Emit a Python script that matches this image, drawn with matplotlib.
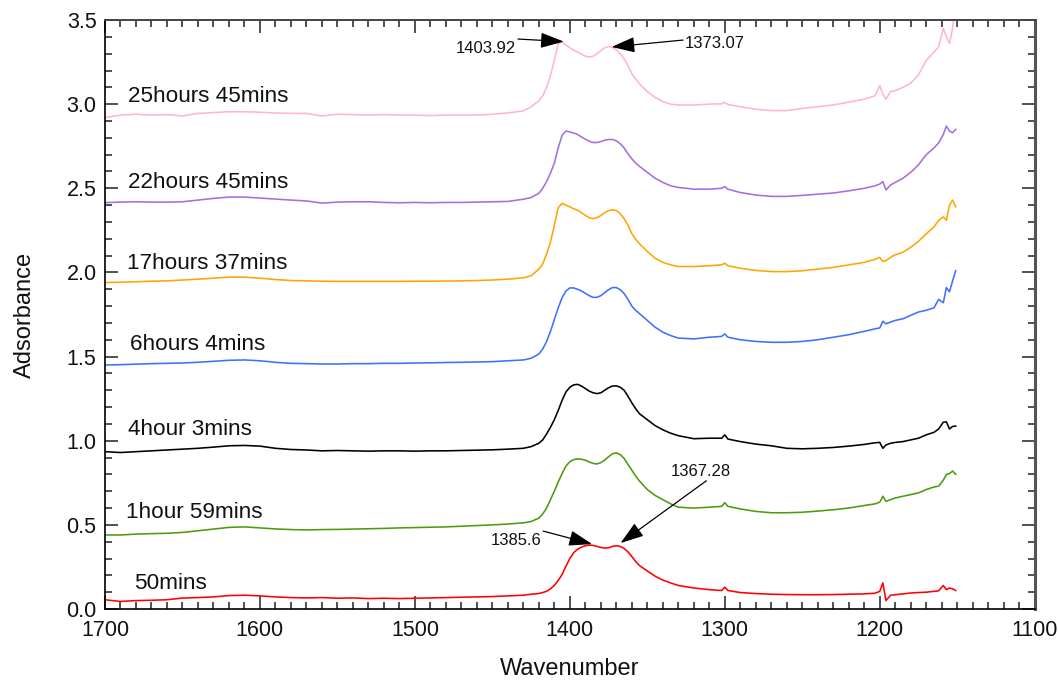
import matplotlib
matplotlib.use("Agg")
import matplotlib.pyplot as plt
from matplotlib.ticker import MultipleLocator, FormatStrFormatter

plt.rcParams['font.family'] = ['Liberation Sans', 'DejaVu Sans']

# Shared wavenumber grid (cm^-1), denser around the 1400/1370 doublet
wavenumber = [1700, 1690, 1680, 1670, 1660, 1650, 1640, 1630, 1620, 1610,
              1600, 1590, 1580, 1570, 1560, 1550, 1540, 1530, 1520, 1510,
              1500, 1490, 1480, 1470, 1460, 1450, 1440, 1430,
              1425, 1420, 1417.5, 1415, 1412.5, 1410, 1407.5, 1405, 1402.5,
              1400, 1397.5, 1395, 1392.5, 1390, 1387.5, 1385, 1382.5, 1380,
              1377.5, 1375, 1372.5, 1370, 1367.5, 1365, 1362.5, 1360, 1357.5,
              1355, 1350, 1345, 1340, 1335,
              1330, 1320, 1310, 1302, 1300, 1298, 1290, 1280, 1270, 1260,
              1250, 1240, 1230, 1220, 1210,
              1203, 1200, 1198, 1196, 1193, 1190, 1185, 1180, 1175, 1170,
              1165, 1162, 1159, 1157, 1155, 1153, 1151]

abs_50min = [0.055, 0.045, 0.050, 0.052, 0.055, 0.065, 0.068, 0.072, 0.080, 0.082,
             0.078, 0.072, 0.068, 0.066, 0.068, 0.064, 0.066, 0.062, 0.064, 0.062,
             0.064, 0.066, 0.068, 0.070, 0.072, 0.074, 0.078, 0.082,
             0.088, 0.092, 0.098, 0.105, 0.120, 0.140, 0.170, 0.205, 0.255,
             0.300, 0.335, 0.355, 0.368, 0.376, 0.380, 0.378, 0.372, 0.366,
             0.362, 0.364, 0.372, 0.376, 0.372, 0.360, 0.340, 0.312, 0.282,
             0.258, 0.226, 0.195, 0.172, 0.155,
             0.140, 0.125, 0.115, 0.110, 0.130, 0.110, 0.098, 0.092, 0.088, 0.086,
             0.085, 0.085, 0.086, 0.088, 0.090,
             0.094, 0.105, 0.155, 0.050, 0.082, 0.085, 0.090, 0.095, 0.098, 0.100,
             0.105, 0.108, 0.140, 0.115, 0.125, 0.120, 0.110]

abs_1h59 = [0.440, 0.440, 0.445, 0.448, 0.450, 0.455, 0.465, 0.475, 0.485, 0.488,
            0.482, 0.476, 0.472, 0.470, 0.472, 0.473, 0.475, 0.477, 0.479, 0.482,
            0.484, 0.486, 0.488, 0.492, 0.496, 0.500, 0.505, 0.512,
            0.520, 0.540, 0.565, 0.600, 0.650, 0.700, 0.755, 0.805, 0.850,
            0.875, 0.888, 0.892, 0.890, 0.884, 0.874, 0.865, 0.862, 0.870,
            0.885, 0.905, 0.922, 0.928, 0.918, 0.895, 0.860, 0.825, 0.790,
            0.760, 0.710, 0.675, 0.650, 0.625,
            0.605, 0.600, 0.605, 0.610, 0.632, 0.610, 0.595, 0.580, 0.572, 0.572,
            0.575, 0.582, 0.590, 0.600, 0.615,
            0.625, 0.635, 0.670, 0.640, 0.650, 0.660, 0.670, 0.680, 0.690, 0.710,
            0.725, 0.730, 0.765, 0.800, 0.805, 0.820, 0.800]

abs_4h03 = [0.935, 0.930, 0.935, 0.940, 0.945, 0.950, 0.955, 0.962, 0.970, 0.972,
            0.968, 0.955, 0.948, 0.945, 0.940, 0.942, 0.940, 0.938, 0.940, 0.940,
            0.938, 0.940, 0.940, 0.942, 0.944, 0.946, 0.950, 0.955,
            0.965, 0.985, 1.005, 1.040, 1.080, 1.125, 1.180, 1.240, 1.290,
            1.318, 1.332, 1.335, 1.325, 1.310, 1.295, 1.285, 1.280, 1.285,
            1.300, 1.315, 1.325, 1.326, 1.318, 1.300, 1.265, 1.225, 1.190,
            1.160, 1.125, 1.090, 1.065, 1.045,
            1.030, 1.012, 1.015, 1.015, 1.035, 1.010, 0.995, 0.980, 0.970, 0.955,
            0.952, 0.955, 0.960, 0.968, 0.978,
            0.988, 0.990, 0.955, 0.975, 0.985, 0.990, 0.995, 1.005, 1.015, 1.035,
            1.050, 1.070, 1.110, 1.112, 1.070, 1.085, 1.087]

abs_6h04 = [1.450, 1.452, 1.455, 1.458, 1.460, 1.462, 1.466, 1.472, 1.478, 1.480,
            1.475, 1.466, 1.460, 1.458, 1.456, 1.456, 1.458, 1.458, 1.460, 1.460,
            1.462, 1.463, 1.465, 1.466, 1.468, 1.470, 1.475, 1.480,
            1.490, 1.515, 1.545, 1.590, 1.650, 1.720, 1.790, 1.850, 1.890,
            1.908, 1.908, 1.900, 1.890, 1.876, 1.862, 1.852, 1.852, 1.862,
            1.880, 1.898, 1.910, 1.910, 1.898, 1.875, 1.840, 1.800, 1.775,
            1.755, 1.715, 1.675, 1.645, 1.625,
            1.610, 1.605, 1.615, 1.620, 1.635, 1.615, 1.600, 1.590, 1.585, 1.585,
            1.590, 1.600, 1.615, 1.630, 1.650,
            1.665, 1.670, 1.710, 1.695, 1.705, 1.715, 1.725, 1.745, 1.765, 1.775,
            1.790, 1.840, 1.820, 1.910, 1.885, 1.950, 2.010]

abs_17h37 = [1.940, 1.942, 1.945, 1.948, 1.950, 1.955, 1.960, 1.966, 1.972, 1.972,
             1.966, 1.958, 1.952, 1.950, 1.948, 1.947, 1.947, 1.947, 1.947, 1.947,
             1.948, 1.948, 1.949, 1.950, 1.952, 1.955, 1.960, 1.968,
             1.980, 2.020, 2.050, 2.110, 2.180, 2.280, 2.385, 2.410, 2.400,
             2.390, 2.378, 2.370, 2.355, 2.340, 2.325, 2.320, 2.325, 2.338,
             2.355, 2.368, 2.372, 2.368, 2.350, 2.320, 2.280, 2.230, 2.198,
             2.170, 2.125, 2.085, 2.060, 2.045,
             2.035, 2.035, 2.040, 2.045, 2.055, 2.040, 2.025, 2.012, 2.005, 2.005,
             2.010, 2.020, 2.030, 2.045, 2.060,
             2.078, 2.090, 2.065, 2.070, 2.090, 2.105, 2.120, 2.150, 2.185, 2.230,
             2.270, 2.310, 2.330, 2.310, 2.400, 2.430, 2.390]

abs_22h45 = [2.415, 2.418, 2.420, 2.418, 2.418, 2.420, 2.430, 2.440, 2.448, 2.448,
             2.442, 2.436, 2.430, 2.425, 2.412, 2.418, 2.420, 2.420, 2.416, 2.414,
             2.416, 2.414, 2.416, 2.416, 2.418, 2.420, 2.422, 2.435,
             2.445, 2.470, 2.500, 2.540, 2.590, 2.650, 2.740, 2.815, 2.840,
             2.835, 2.828, 2.820, 2.805, 2.792, 2.780, 2.772, 2.772, 2.778,
             2.786, 2.790, 2.790, 2.782, 2.765, 2.740, 2.705, 2.675, 2.650,
             2.630, 2.595, 2.560, 2.535, 2.515,
             2.505, 2.495, 2.495, 2.500, 2.510, 2.495, 2.475, 2.460, 2.452, 2.452,
             2.458, 2.465, 2.472, 2.485, 2.500,
             2.515, 2.525, 2.540, 2.490, 2.520, 2.535, 2.560, 2.595, 2.640, 2.700,
             2.740, 2.770, 2.820, 2.870, 2.840, 2.830, 2.850]

abs_25h45 = [2.920, 2.935, 2.940, 2.935, 2.938, 2.930, 2.945, 2.950, 2.955, 2.955,
             2.952, 2.948, 2.945, 2.945, 2.930, 2.940, 2.938, 2.935, 2.938, 2.935,
             2.935, 2.932, 2.935, 2.935, 2.935, 2.940, 2.948, 2.960,
             2.985, 3.020, 3.050, 3.100, 3.170, 3.260, 3.360, 3.370, 3.350,
             3.335, 3.320, 3.310, 3.298, 3.285, 3.280, 3.285, 3.300, 3.318,
             3.335, 3.343, 3.338, 3.322, 3.300, 3.270, 3.230, 3.180, 3.150,
             3.120, 3.075, 3.040, 3.015, 3.000,
             2.995, 2.995, 3.000, 3.002, 3.010, 2.998, 2.985, 2.970, 2.962, 2.962,
             2.975, 2.985, 2.995, 3.012, 3.030,
             3.050, 3.110, 3.060, 3.030, 3.075, 3.080, 3.100, 3.125, 3.175, 3.260,
             3.310, 3.340, 3.450, 3.400, 3.360, 3.450, 3.600]

series_labels = ["50mins", "1hour 59mins", "4hour 3mins", "6hours 4mins",
                 "17hours 37mins", "22hours 45mins", "25hours 45mins"]
series_values = [abs_50min, abs_1h59, abs_4h03, abs_6h04,
                 abs_17h37, abs_22h45, abs_25h45]
series_colors = ["#ff0000", "#4e9a0c", "#000000", "#3f6fff",
                 "#ffa500", "#a76ee0", "#ffb6c8"]
# (wavenumber, absorbance) anchor of each series caption
label_pos = [(1681.5, 0.150), (1686.5, 0.575), (1685.2, 1.065), (1684.0, 1.57),
             (1685.5, 2.055), (1685.2, 2.535), (1685.2, 3.045)]

# Peak annotations: text, text centre, arrow tail, arrow tip
peak_text = ["1403.92", "1373.07", "1385.6", "1367.28"]
peak_text_xy = [(1454.2, 3.333), (1306.5, 3.361), (1434.4, 0.41), (1315.5, 0.816)]
peak_tail_xy = [(1433.5, 3.387), (1326.9, 3.381), (1417.2, 0.463), (1311.9, 0.762)]
peak_tip_xy = [(1403.92, 3.372), (1373.07, 3.340), (1385.6, 0.386), (1367.28, 0.392)]

fig = plt.figure(figsize=(10.58, 6.81), dpi=100)
ax = fig.add_axes([0.0992, 0.1057, 0.8788, 0.8649])

for vals, col in zip(series_values, series_colors):
    ax.plot(wavenumber, vals, color=col, lw=1.15, solid_joinstyle='round')

for text, (x, y) in zip(series_labels, label_pos):
    ax.text(x, y, text, fontsize=16.2, ha='left', va='center', color='#111111')

for text, txy, tail, tip in zip(peak_text, peak_text_xy, peak_tail_xy, peak_tip_xy):
    ax.text(txy[0], txy[1], text, fontsize=12, ha='center', va='center',
            color='#111111')
    ax.annotate('', xy=tip, xytext=tail,
                arrowprops=dict(arrowstyle='-|>,head_length=0.9,head_width=0.3',
                                mutation_scale=16, color='black', lw=0.9,
                                shrinkA=0, shrinkB=0))

ax.set_xlim(1700, 1100)
ax.set_ylim(0.0, 3.5)
ax.xaxis.set_major_locator(MultipleLocator(100))
ax.xaxis.set_minor_locator(MultipleLocator(10))
ax.yaxis.set_major_locator(MultipleLocator(0.5))
ax.yaxis.set_minor_locator(MultipleLocator(0.1))
ax.yaxis.set_major_formatter(FormatStrFormatter('%.1f'))

ax.tick_params(which='both', direction='in', top=True, right=True,
               width=1.1, colors='#222222', labelsize=15.5)
ax.tick_params(which='major', length=9.5)
ax.tick_params(which='minor', length=5)
ax.tick_params(axis='x', which='major', pad=8)
ax.tick_params(axis='y', which='major', pad=6)
for lbl in ax.get_xticklabels() + ax.get_yticklabels():
    lbl.set_color('#111111')

ax.spines['left'].set_linewidth(1.2)
ax.spines['bottom'].set_linewidth(1.2)
ax.spines['top'].set_linewidth(1.4)
ax.spines['top'].set_color('#444444')
ax.spines['right'].set_linewidth(2.2)
ax.spines['right'].set_color('#555555')

ax.set_xlabel('Wavenumber', fontsize=17, labelpad=12, color='#111111')
ax.set_ylabel('Adsorbance', fontsize=17, labelpad=22, color='#111111')

fig.savefig('out.png', dpi=100)
